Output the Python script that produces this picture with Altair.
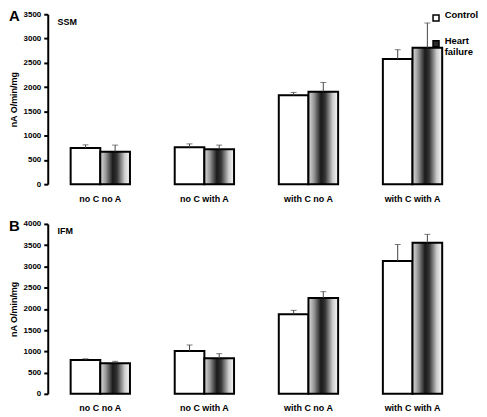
import altair as alt
import pandas as pd

groups = ["no C no A", "no C with A", "with C no A", "with C with A"]
series = ["Control", "Heart failure"]

ssm_control = [745, 760, 1830, 2580]
ssm_control_err = [65, 70, 60, 190]
ssm_hf = [670, 720, 1905, 2810]
ssm_hf_err = [135, 85, 190, 510]

ifm_control = [795, 1010, 1875, 3125]
ifm_control_err = [30, 140, 90, 390]
ifm_hf = [720, 835, 2255, 3555]
ifm_hf_err = [45, 110, 150, 200]

FONT = "Liberation Sans"

GRAD = {
    "gradient": "linear", "x1": 0, "x2": 1, "y1": 0, "y2": 0,
    "stops": [
        {"offset": 0.0, "color": "#dcdcdc"},
        {"offset": 0.18, "color": "#9a9a9a"},
        {"offset": 0.42, "color": "#1a1a1a"},
        {"offset": 0.56, "color": "#333333"},
        {"offset": 0.82, "color": "#cccccc"},
        {"offset": 1.0, "color": "#f8f8f8"},
    ],
}


def make_df(ctrl, ctrl_err, hf, hf_err):
    rows = []
    for g, v, e in zip(groups, ctrl, ctrl_err):
        rows.append({"group": g, "series": "Control", "value": v, "upper": v + e})
    for g, v, e in zip(groups, hf, hf_err):
        rows.append({"group": g, "series": "Heart failure", "value": v, "upper": v + e})
    return pd.DataFrame(rows)


def panel(df, ymax, letter, label, label_y, legend=False):
    xs = alt.Scale(paddingInner=0.43, paddingOuter=0.22)
    ys = alt.Scale(domain=[0, ymax], nice=False)
    xaxis = alt.Axis(title=None, labelAngle=0, domain=False, ticks=False,
                     labelFont=FONT, labelFontSize=9, labelFontWeight="bold",
                     labelColor="black", labelPadding=10)
    yaxis = alt.Axis(values=list(range(0, ymax + 1, 500)), format="d",
                     labelOverlap=False, title="nA O/min/mg",
                     grid=False, domainColor="black", domainWidth=2,
                     tickColor="black", tickWidth=2, tickSize=4,
                     labelFont=FONT, labelFontSize=8, labelFontWeight="bold",
                     labelColor="black", labelPadding=3,
                     titleFont=FONT, titleFontSize=9, titleFontWeight="bold",
                     titleColor="black", titlePadding=5)
    x = alt.X("group:N", sort=groups, scale=xs, axis=xaxis)
    xo = alt.XOffset("series:N", sort=series, scale=alt.Scale(paddingInner=0, paddingOuter=0))
    y = alt.Y("value:Q", scale=ys, axis=yaxis)
    yu = alt.Y("upper:Q", scale=ys, axis=yaxis)
    base = alt.Chart(df).encode(x=x, xOffset=xo, y=y)
    ctrl = base.transform_filter(alt.datum.series == "Control").mark_bar(
        fill="white", stroke="black", strokeWidth=2)
    hf = base.transform_filter(alt.datum.series == "Heart failure").mark_bar(
        fill=GRAD, stroke="black", strokeWidth=2)
    err = base.mark_rule(color="#444444", strokeWidth=1).encode(y2="upper:Q")
    cap = alt.Chart(df).mark_tick(color="#444444", thickness=1, size=6).encode(
        x=x, xOffset=xo, y=yu)
    ann_df = pd.DataFrame({"group": [groups[0]], "value": [label_y], "t": [label]})
    ann = alt.Chart(ann_df).mark_text(
        align="left", baseline="middle", dx=-43, font=FONT, fontSize=9,
        fontWeight="bold", color="black").encode(x=x, y=y, text="t:N")
    let_df = pd.DataFrame({"group": [groups[0]], "value": [ymax], "t": [letter]})
    let = alt.Chart(let_df).mark_text(
        align="left", baseline="middle", dx=-92, dy=2, font=FONT, fontSize=15,
        fontWeight="bold", color="black").encode(x=x, y=y, text="t:N")
    layers = [ctrl, hf, err, cap, ann, let]
    if legend:
        leg = base.mark_point(shape="square", filled=True, opacity=0).encode(
            fill=alt.Fill("series:N", sort=series,
                          scale=alt.Scale(domain=series, range=["white", "#2a2a2a"]),
                          legend=alt.Legend(
                              orient="none", legendX=386, legendY=-1, title=None,
                              padding=0, symbolType="square", symbolSize=36,
                              symbolStrokeColor="black", symbolStrokeWidth=1.5,
                              symbolOpacity=1, rowPadding=11,
                              labelFont=FONT, labelFontSize=9.5, labelFontWeight="bold",
                              labelColor="black", labelBaseline="alphabetic",
                              labelOffset=4, labelLimit=60,
                              labelExpr="datum.label == 'Heart failure' ? ['Heart', 'failure'] : datum.label")))
        layers.append(leg)
    return alt.layer(*layers).properties(width=420, height=171)


dfa = make_df(ssm_control, ssm_control_err, ssm_hf, ssm_hf_err)
dfb = make_df(ifm_control, ifm_control_err, ifm_hf, ifm_hf_err)

chart = alt.vconcat(
    panel(dfa, 3500, "A", "SSM", 3340, legend=True),
    panel(dfb, 4000, "B", "IFM", 3840),
    spacing=16,
).resolve_scale(y="independent").properties(padding=0).configure_view(stroke=None)

chart.save("out.html", embed_options={"renderer": "svg", "actions": False})
